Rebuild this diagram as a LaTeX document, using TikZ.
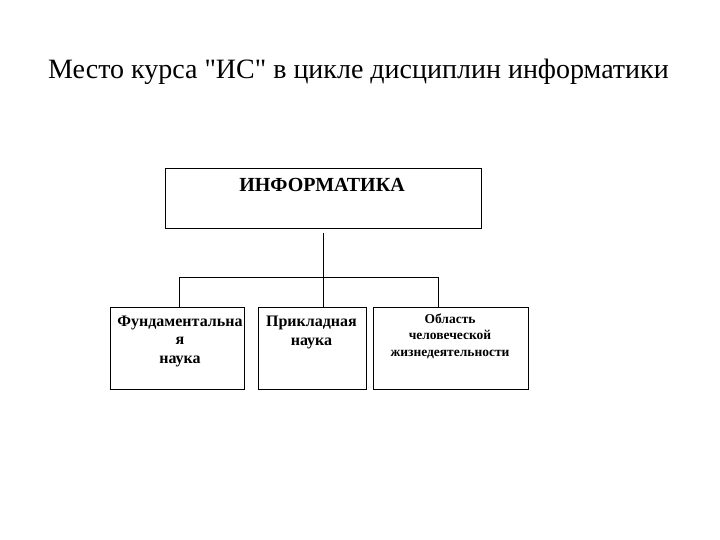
\documentclass[tikz,border=0pt]{standalone}
\usepackage{fontspec}
\setmainfont{Liberation Serif}
\begin{document}
\begin{tikzpicture}[x=1pt,y=-1pt,
  box/.style={draw,line width=0.8pt,inner sep=0pt},
  conn/.style={line width=0.8pt},
  lbl/.style={font=\bfseries\fontsize{16}{18.5}\selectfont,align=center,inner sep=0pt}]
\useasboundingbox (0,0) rectangle (720,540);
\node[font=\fontsize{28}{32}\selectfont,inner sep=0pt] (title) at (358.5,72) {Место курса \textquotedbl ИС\textquotedbl\ в цикле дисциплин информатики};
\node[box,minimum width=316pt,minimum height=60pt] (top) at (323,198) {};
\node[font=\bfseries\fontsize{20}{24}\selectfont,inner sep=0pt] (toplbl) at (322,185) {ИНФОРМАТИКА};
\node[box,minimum width=134pt,minimum height=82pt] (b1) at (177,348) {};
\node[box,minimum width=108pt,minimum height=82pt] (b2) at (312,348) {};
\node[box,minimum width=155pt,minimum height=82pt] (b3) at (450.5,348) {};
\node[lbl] (t1) at (180,341) {Фундаментальна\\я\\наука};
\node[lbl] (t2) at (311.5,332.5) {Прикладная\\наука};
\node[lbl,font=\bfseries\fontsize{13.5}{16.5}\selectfont] (t3) at (450,336) {Область\\человеческой\\жизнедеятельности};
\coordinate (hl) at (179,277);
\coordinate (hr) at (438,277);
\coordinate (hm) at (323,277);
\draw[conn] ([yshift=-5pt]top.south) -- (hm);
\draw[conn] (hl) -- (hr);
\draw[conn] (hl) -- (hl |- b1.north);
\draw[conn] (hm) -- (hm |- b2.north);
\draw[conn] (hr) -- (hr |- b3.north);
\end{tikzpicture}
\end{document}
